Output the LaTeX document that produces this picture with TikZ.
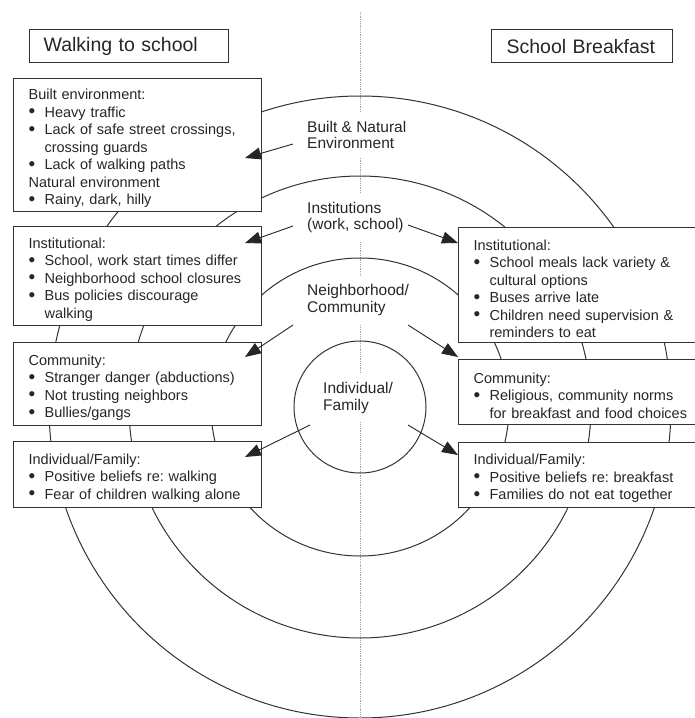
\documentclass[tikz,border=0pt]{standalone}
\usepackage{fontspec}
\setmainfont{Liberation Sans}
\usetikzlibrary{arrows.meta}
\frenchspacing
\newcommand{\bul}[1]{\par\noindent\makebox[16pt][l]{{\fontsize{19}{17.5}\selectfont\raisebox{-0.5pt}{\textbullet}}}#1}
\newcommand{\cont}[1]{\par\noindent\hspace*{16pt}#1}
\newcommand{\hd}[1]{\par\noindent #1}
\tikzset{
  ring/.style={draw=black!80, line width=1pt},
  infobox/.style={draw=black!80, line width=1.2pt, fill=white, anchor=north west,
    inner xsep=15pt, inner ysep=0pt, align=left, text width=218pt,
    font=\fontsize{14.5}{17.5}\selectfont, text=black!85},
  titlebox/.style={draw=black!80, line width=1.2pt, fill=white, anchor=north west,
    inner ysep=0pt, align=left, minimum height=33pt,
    font=\fontsize{19.5}{22}\selectfont, text=black!85},
  ringlabel/.style={fill=white, anchor=west, inner xsep=2pt, inner ysep=9pt, align=left,
    font=\fontsize{15.5}{16.5}\selectfont, text=black!85},
  arr/.style={draw=black!85, line width=0.9pt, -{Triangle[length=16pt,width=12pt]}},
  divider/.style={densely dotted, draw=gray!70, line width=0.8pt},
}
\begin{document}
\begin{tikzpicture}[x=1pt,y=-1pt]
\useasboundingbox (0,0) rectangle (695,718);
\fill[white] (0,0) rectangle (695,718);
% vertical divider
\coordinate (vtop) at (360,12);
\coordinate (vbot) at (360,718);
\draw[divider] (vtop) -- (vbot);
% rings
\coordinate (c) at (360,407);
\draw[ring] (c) circle[radius=66pt];
\draw[ring] (c) circle[radius=149pt];
\draw[ring] (c) circle[radius=231pt];
\draw[ring] (c) circle[radius=311pt];
% ring labels
\node[ringlabel] (lbne) at (305,135) {Built \& Natural\\Environment};
\node[ringlabel] (linst) at (305,217.5) {Institutions\\(work, school)};
\node[ringlabel] (lnei) at (305,300) {Neighborhood/\\Community};
\node[ringlabel] (lind) at (321,398) {Individual/\\Family};
% titles
\node[titlebox, inner xsep=14pt, text width=171pt] (twalk) at (29,29) {\mbox{Walking to school}};
\node[titlebox, inner xsep=15pt, text width=151pt] (tbreak) at (491,29) {\mbox{School Breakfast}};
% left boxes
\node[infobox, minimum height=133pt] (wbe) at (13,78) {%
\hd{Built environment:}
\bul{Heavy traffic}
\bul{Lack of safe street crossings,}
\cont{crossing guards}
\bul{Lack of walking paths}
\hd{Natural environment}
\bul{Rainy, dark, hilly}\par};
\node[infobox, minimum height=99pt] (winst) at (13,226) {%
\hd{Institutional:}
\bul{School, work start times differ}
\bul{Neighborhood school closures}
\bul{Bus policies discourage}
\cont{walking}\par};
\node[infobox, minimum height=83pt] (wcom) at (13,342) {%
\hd{Community:}
\bul{Stranger danger (abductions)}
\bul{Not trusting neighbors}
\bul{Bullies/gangs}\par};
\node[infobox, minimum height=66pt] (wind) at (13,441) {%
\hd{Individual/Family:}
\bul{Positive beliefs re: walking}
\bul{Fear of children walking alone}\par};
% right boxes
\node[infobox, minimum height=115pt] (binst) at (458,227) {%
\hd{Institutional:}
\bul{School meals lack variety \&}
\cont{cultural options}
\bul{Buses arrive late}
\bul{Children need supervision \&}
\cont{reminders to eat}\par};
\node[infobox, minimum height=65pt] (bcom) at (458,359) {%
\hd{Community:}
\bul{Religious, community norms}
\cont{for breakfast and food choices}\par};
\node[infobox, minimum height=65pt] (bind) at (458,442) {%
\hd{Individual/Family:}
\bul{Positive beliefs re: breakfast}
\bul{Families do not eat together}\par};
% arrow end points
\coordinate (a1s) at (293,144); \coordinate (a1e) at (245,158);
\coordinate (a2s) at (293,226); \coordinate (a2e) at (245,243);
\coordinate (a3s) at (293,325); \coordinate (a3e) at (245,357);
\coordinate (a4s) at (310,425); \coordinate (a4e) at (245,457);
\coordinate (b2s) at (408,225); \coordinate (b2e) at (458,243);
\coordinate (b3s) at (408,325); \coordinate (b3e) at (458,357);
\coordinate (b4s) at (408,425); \coordinate (b4e) at (458,455);
\draw[arr] (a1s) -- (a1e);
\draw[arr] (a2s) -- (a2e);
\draw[arr] (a3s) -- (a3e);
\draw[arr] (a4s) -- (a4e);
\draw[arr] (b2s) -- (b2e);
\draw[arr] (b3s) -- (b3e);
\draw[arr] (b4s) -- (b4e);
\end{tikzpicture}
\end{document}
